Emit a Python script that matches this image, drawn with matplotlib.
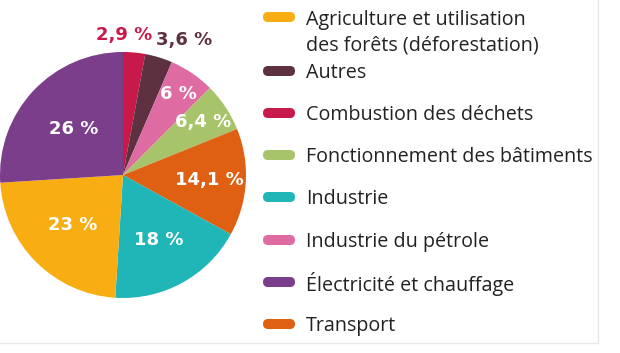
import matplotlib
matplotlib.use("Agg")
import matplotlib.pyplot as plt
import matplotlib.patches as patches
import numpy as np

# --- Data (pie order, clockwise from 12 o'clock) ---
sectors = ["Combustion des déchets", "Autres", "Industrie du pétrole",
           "Fonctionnement des bâtiments", "Transport", "Industrie",
           "Agriculture et utilisation\ndes forêts (déforestation)",
           "Électricité et chauffage"]
shares = [2.9, 3.6, 6, 6.4, 14.1, 18, 23, 26]
share_labels = ["2,9 %", "3,6 %", "6 %", "6,4 %", "14,1 %", "18 %", "23 %", "26 %"]
colors = ["#C8194B", "#5E3140", "#DE6CA3", "#A8C46A",
          "#E06013", "#20B6B8", "#F8AD13", "#7A3E8A"]

# legend is alphabetical
legend_order = [6, 1, 0, 3, 5, 2, 7, 4]

# --- Figure in pixel units ---
W, H = 620, 353
fig = plt.figure(figsize=(W / 100, H / 100), dpi=100)
ax = fig.add_axes([0, 0, 1, 1])

cx, cy, R = 123, H - 175, 123
wedges, _ = ax.pie(shares, colors=colors, startangle=90, counterclock=False,
                   center=(cx, cy), radius=R, frame=True,
                   wedgeprops=dict(linewidth=0))
ax.set_xlim(0, W)
ax.set_ylim(0, H)
ax.set_aspect("equal")
ax.axis("off")

# label distance (fraction of radius) per slice; first two sit outside
label_r = [1.14, 1.15, 0.80, 0.78, 0.72, 0.60, 0.58, 0.55]
label_dx = [-12, 20, 0, 0, -2, 0, 0, 0]
for i, w in enumerate(wedges):
    ang = np.deg2rad((w.theta1 + w.theta2) / 2)
    x = cx + label_r[i] * R * np.cos(ang) + label_dx[i]
    y = cy + label_r[i] * R * np.sin(ang)
    col = colors[i] if label_r[i] > 1 else "white"
    ax.text(x, y, share_labels[i], ha="center", va="center", color=col,
            fontsize=13, fontweight="bold", family="DejaVu Sans")

# --- Legend ---
rows_y = [17, 71, 113, 155, 197, 240, 282, 324]
for k, idx in enumerate(legend_order):
    y = H - rows_y[k]
    ax.add_patch(patches.FancyBboxPatch((263, y - 5), 32, 10,
                 boxstyle="round,pad=0,rounding_size=5",
                 facecolor=colors[idx], edgecolor="none"))
    for j, line in enumerate(sectors[idx].split("\n")):
        ax.text(306, y - 26 * j, line, ha="left", va="center_baseline",
                color="#222222", fontsize=14.2, family="Open Sans")

# card border
ax.plot([0, 598, 598], [H - 343, H - 343, H], color="#e8e8e8", lw=1)

fig.savefig("out.png", dpi=100)
